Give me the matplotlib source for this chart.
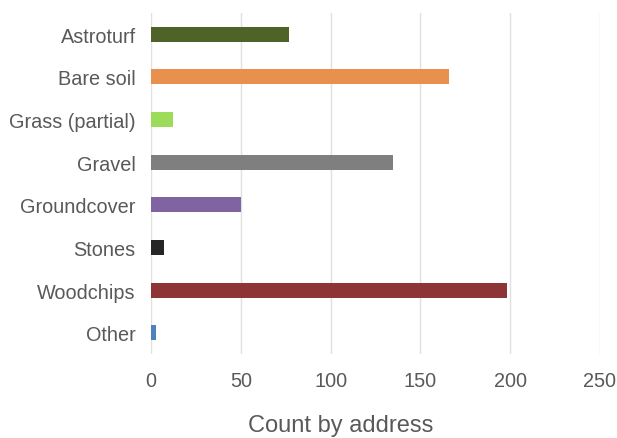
import matplotlib.pyplot as plt

# Surface types and how many addresses reported each
categories = ['Astroturf', 'Bare soil', 'Grass (partial)', 'Gravel',
              'Groundcover', 'Stones', 'Woodchips', 'Other']
counts = [77, 166, 12, 135, 50, 7, 198, 3]
bar_colors = ['#4f6228', '#e8914f', '#9ddc5a', '#7f7f7f',
              '#8064a2', '#262626', '#8e3336', '#4f81bd']
x_ticks = [0, 50, 100, 150, 200, 250]

plt.rcParams['font.family'] = ['Liberation Sans', 'DejaVu Sans']

fig = plt.figure(figsize=(6.17, 4.39), dpi=100)
ax = fig.add_axes([151 / 617, 1 - 355 / 439, 449 / 617, 341 / 439])

ypos = range(len(categories))
ax.barh(ypos, counts, height=0.35, color=bar_colors, zorder=3)

ax.set_xlim(0, 250)
ax.set_ylim(len(categories) - 0.5, -0.5)
ax.set_xticks(x_ticks)
ax.set_yticks(list(ypos))
ax.set_yticklabels(categories)

ax.grid(axis='x', color='#e0e0e0', linewidth=1.0, zorder=0)
for s in ax.spines.values():
    s.set_visible(False)
ax.tick_params(axis='both', length=0, labelsize=14.3, colors='#595959')
ax.tick_params(axis='y', pad=11)
ax.tick_params(axis='x', pad=12)

ax.set_xlabel('Count by address', fontsize=17, color='#595959')
ax.xaxis.set_label_coords(0.423, -0.176)

fig.savefig('out.png', dpi=100)
